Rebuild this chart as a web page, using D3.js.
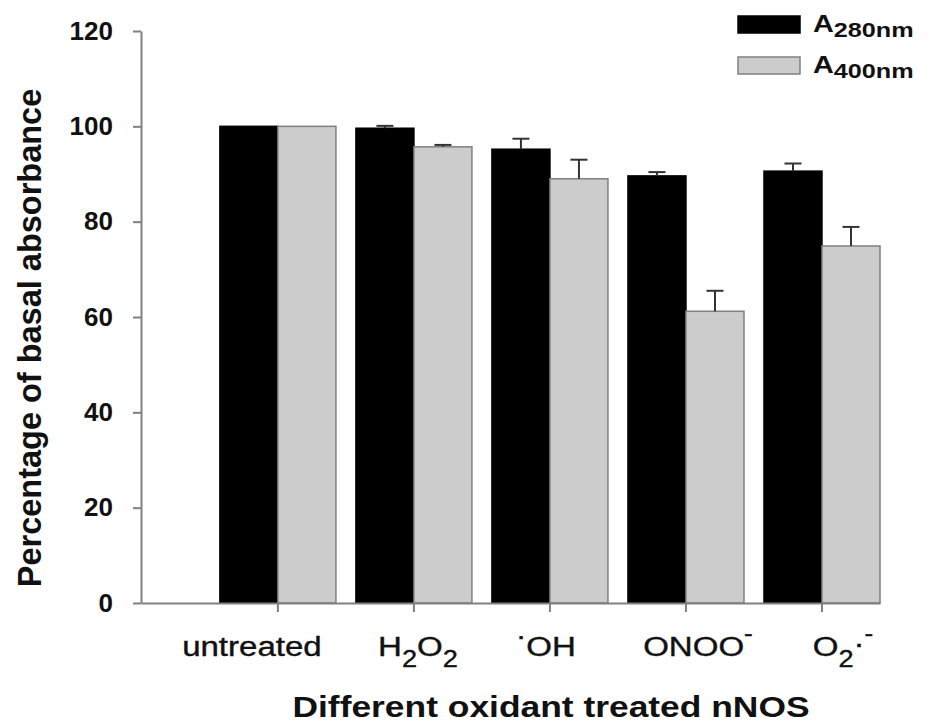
<!DOCTYPE html>
<html>
<head>
<meta charset="utf-8">
<script src="https://cdn.jsdelivr.net/npm/d3@7"></script>
<style>
    body { margin: 0; background: #fff; }
    text { font-family: "Liberation Sans", Arial, sans-serif; }
</style>
</head>
<body>
<div id="chart"></div>
<script>
// values (percent of basal absorbance)
const categories = ['untreated', 'H2O2', 'OH', 'ONOO', 'O2'];
const a280 = [100, 99.6, 95.2, 89.6, 90.6];
const a280Err = [0, 0.5, 2.2, 0.8, 1.6];
const a400 = [100, 95.7, 89.0, 61.2, 74.9];
const a400Err = [0, 0.4, 4.0, 4.3, 4.0];
const yTicks = [0, 20, 40, 60, 80, 100, 120];

// tick label pieces: plain, sub(script) or sup(erscript)
const tickLabels = [
    [['untreated']],
    [['H'], ['2', 'sub'], ['O'], ['2', 'sub']],
    [['\u00b7', 'dot'], ['OH']],
    [['ONOO'], ['-', 'sup']],
    [['O'], ['2', 'sub'], ['\u00b7', 'mid'], ['-', 'sup']]
];
const series = [
    {key: 'a280', label: '280nm', values: a280, err: a280Err},
    {key: 'a400', label: '400nm', values: a400, err: a400Err}
];

const config = {
    width: 947,
    height: 722,
    xLeft: 141,
    xRight: 880,
    yTop: 31,
    yBottom: 603,
    fill: {a280: '#000000', a400: '#cccccc'},
    stroke: {a280: '#000000', a400: '#808080'},
    axisColor: '#808080',
    stretch: 1.18
};

const svg = d3.select('#chart')
    .append('svg')
    .attr('width', config.width)
    .attr('height', config.height);

const y = d3.scaleLinear()
    .domain([0, 120])
    .range([config.yBottom, config.yTop]);

const x = d3.scaleBand()
    .domain(categories)
    .range([config.xLeft, config.xRight])
    .paddingInner(0.147)
    .paddingOuter(0.29)
    .align(1);

const xSub = d3.scaleBand()
    .domain(series.map(s => s.key))
    .range([0, x.bandwidth()]);

// bars
const groups = svg.append('g')
    .selectAll('g')
    .data(categories)
    .enter()
    .append('g')
    .attr('transform', d => `translate(${x(d)},0)`);

groups.selectAll('rect')
    .data((d, i) => series.map(s => ({key: s.key, v: s.values[i], e: s.err[i]})))
    .enter()
    .append('rect')
    .attr('x', d => xSub(d.key))
    .attr('width', xSub.bandwidth())
    .attr('y', d => y(d.v))
    .attr('height', d => y(0) - y(d.v))
    .attr('fill', d => config.fill[d.key])
    .attr('stroke', d => config.stroke[d.key])
    .attr('stroke-width', 1.5);

// upper error bars
const capW = 17;
const errs = groups.selectAll('g.err')
    .data((d, i) => series.map(s => ({key: s.key, v: s.values[i], e: s.err[i]})).filter(d => d.e > 0))
    .enter()
    .append('g')
    .attr('class', 'err')
    .attr('stroke', '#333')
    .attr('stroke-width', 2);

errs.append('line')
    .attr('x1', d => xSub(d.key) + xSub.bandwidth() / 2)
    .attr('x2', d => xSub(d.key) + xSub.bandwidth() / 2)
    .attr('y1', d => y(d.v))
    .attr('y2', d => y(d.v + d.e));

errs.append('line')
    .attr('x1', d => xSub(d.key) + xSub.bandwidth() / 2 - capW / 2)
    .attr('x2', d => xSub(d.key) + xSub.bandwidth() / 2 + capW / 2)
    .attr('y1', d => y(d.v + d.e))
    .attr('y2', d => y(d.v + d.e));

// y axis
const yAxis = svg.append('g')
    .attr('transform', `translate(${config.xLeft},0)`)
    .call(d3.axisLeft(y).tickValues(yTicks).tickSize(8).tickSizeOuter(0).tickPadding(20));

yAxis.selectAll('path, line')
    .attr('stroke', config.axisColor)
    .attr('stroke-width', 2);
yAxis.selectAll('text')
    .attr('font-family', '"Liberation Sans", Arial, sans-serif')
    .attr('font-size', 26)
    .attr('font-weight', 'bold')
    .attr('fill', '#111');

// x axis
const xAxis = svg.append('g')
    .attr('transform', `translate(0,${config.yBottom})`)
    .call(d3.axisBottom(x).tickSize(9).tickSizeOuter(0).tickFormat(''));

xAxis.selectAll('path, line')
    .attr('stroke', config.axisColor)
    .attr('stroke-width', 2);

// tick labels with sub/superscripts, nudged like the original
const labelNudge = [-26, 4, -4, 12, 21];
const labels = svg.append('g')
    .selectAll('text')
    .data(categories)
    .enter()
    .append('text')
    .attr('transform', (d, i) => `translate(${x(d) + x.bandwidth() / 2 + labelNudge[i]},656) scale(${config.stretch},1)`)
    .attr('text-anchor', 'middle')
    .attr('font-size', 28)
    .attr('fill', '#111')
    .attr('stroke', '#111')
    .attr('stroke-width', 0.4);

labels.each(function(d, i) {
    const t = d3.select(this);
    let shift = 0;
    tickLabels[i].forEach(([s, kind]) => {
        let target = 0;
        let size = 28;
        if (kind === 'sub') { target = 11; size = 23; }
        if (kind === 'sup') { target = -15; size = 22; }
        if (kind === 'dot') { target = -11; size = 26; }
        if (kind === 'mid') { target = -3; size = 28; }
        t.append('tspan')
            .attr('dy', target - shift)
            .attr('font-size', size)
            .text(s);
        shift = target;
    });
});

// axis titles
svg.append('text')
    .attr('transform', `translate(551,717) scale(${config.stretch},1)`)
    .attr('text-anchor', 'middle')
    .attr('font-size', 30)
    .attr('font-weight', 'bold')
    .attr('fill', '#111')
    .text('Different oxidant treated nNOS');

svg.append('text')
    .attr('transform', 'translate(41,338) rotate(-90)')
    .attr('text-anchor', 'middle')
    .attr('font-size', 32.5)
    .attr('font-weight', 'bold')
    .attr('fill', '#111')
    .text('Percentage of basal absorbance');

// legend
const legend = svg.append('g')
    .selectAll('g')
    .data(series)
    .enter()
    .append('g')
    .attr('transform', (d, i) => `translate(738,${16 + i * 41})`);

legend.append('rect')
    .attr('width', 62)
    .attr('height', 17)
    .attr('fill', d => config.fill[d.key])
    .attr('stroke', d => config.stroke[d.key])
    .attr('stroke-width', 1.5);

const legendText = legend.append('text')
    .attr('transform', `translate(75,16) scale(1.2,1)`)
    .attr('font-weight', 'bold')
    .attr('fill', '#111');

legendText.append('tspan')
    .attr('font-size', 24)
    .text('A');
legendText.append('tspan')
    .attr('font-size', 21)
    .attr('dy', 5)
    .text(d => d.label);
</script>
</body>
</html>
